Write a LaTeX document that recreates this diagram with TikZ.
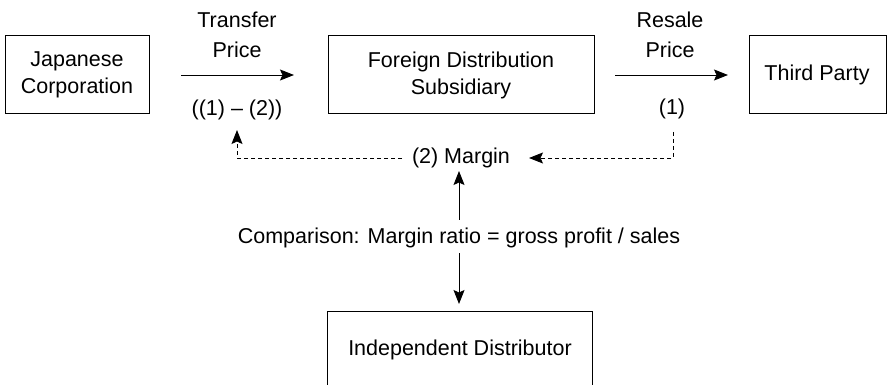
\documentclass[tikz,border=0pt]{standalone}
\usepackage{fontspec}
\setmainfont{Liberation Sans}
\usetikzlibrary{arrows.meta}
\begin{document}
\begin{tikzpicture}[x=1pt,y=-1pt,
  box/.style={draw,line width=0.9pt,inner sep=0pt},
  lbl/.style={inner sep=0pt,font=\fontsize{21.5}{27}\selectfont,align=center},
  tlbl/.style={inner sep=0pt,font=\fontsize{21.5}{30}\selectfont,align=center},
  arr/.style={line width=0.9pt,-{Stealth[length=14pt,width=11pt,inset=2.5pt]}},
  darr/.style={line width=0.9pt,dash pattern=on 4pt off 3pt,-{Stealth[length=14pt,width=11pt,inset=2.5pt]}}]
\useasboundingbox (0,0) rectangle (887,385);
\clip (0,0) rectangle (887,385);
% boxes
\draw[box] (5,35) rectangle (149,113);
\node[lbl] (jc) at (77,75) {Japanese\\Corporation};
\draw[box] (328,35) rectangle (594,113);
\node[lbl] (fds) at (461,75) {Foreign Distribution\\Subsidiary};
\draw[box] (749,35) rectangle (886,113);
\node[lbl] (tp) at (817,75) {Third Party};
\draw[box] (327,311) rectangle (592,400);
\node[lbl] (id) at (460,350) {Independent Distributor};
% transfer arrow
\coordinate (t1) at (181,75);
\coordinate (t2) at (294,75);
\draw[arr] (t1) -- (t2);
\node[tlbl] (tr) at (237,35) {Transfer\\Price};
\node[lbl] (tpx) at (237,110) {((1) – (2))};
% resale arrow
\coordinate (r1) at (615,75);
\coordinate (r2) at (728,75);
\draw[arr] (r1) -- (r2);
\node[tlbl] (rs) at (670,35) {Resale\\Price};
\node[lbl] (one) at (672,109) {(1)};
% margin
\node[lbl] (mg) at (461,158) {(2) Margin};
\coordinate (d1) at (673,132);
\coordinate (d2) at (673,158);
\coordinate (d3) at (529,158);
\draw[darr] (d1) -- (d2) -- (d3);
\coordinate (e1) at (402,158);
\coordinate (e2) at (237,158);
\coordinate (e3) at (237,130);
\draw[darr] (e1) -- (e2) -- (e3);
% comparison
\node[lbl] (cmp) at (459,238) {Comparison: Margin ratio = gross profit / sales};
\coordinate (u1) at (459,220);
\coordinate (u2) at (459,171);
\draw[arr] (u1) -- (u2);
\coordinate (v1) at (459,253);
\coordinate (v2) at (459,304);
\draw[arr] (v1) -- (v2);
\end{tikzpicture}
\end{document}
